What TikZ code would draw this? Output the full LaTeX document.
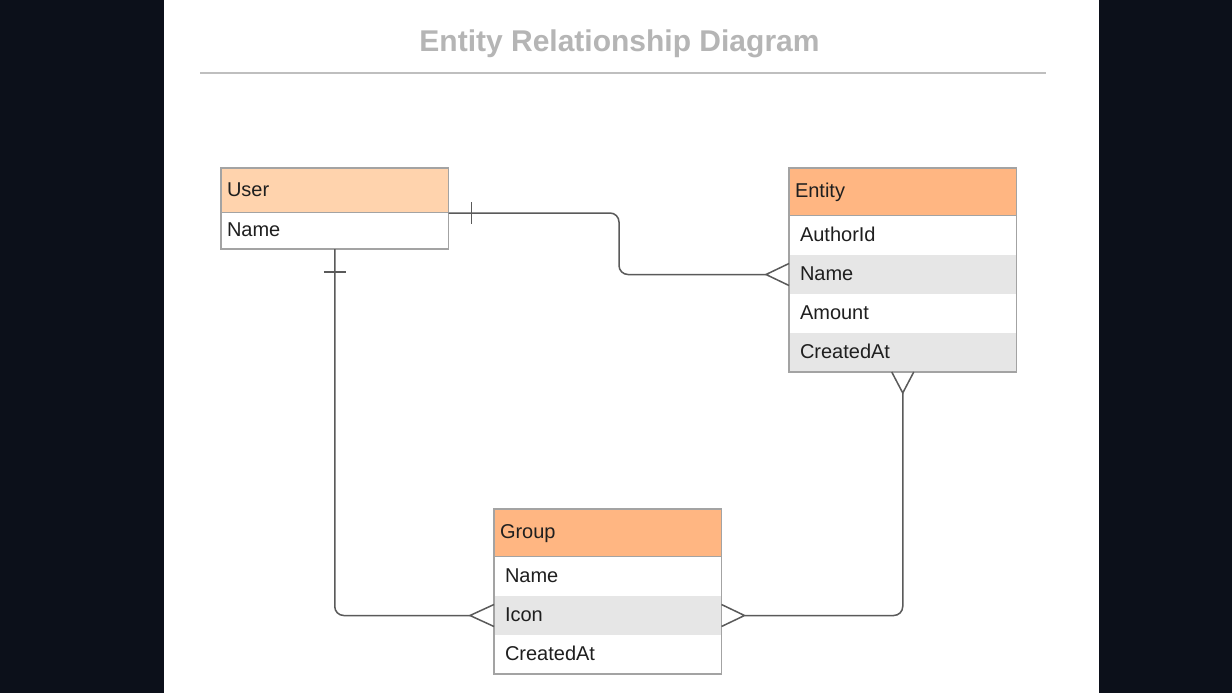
\documentclass[tikz,border=0pt]{standalone}
\usepackage{fontspec}
\setmainfont{Liberation Sans}
\usetikzlibrary{positioning,calc}
\definecolor{darkbg}{HTML}{0C101A}
\definecolor{headpale}{HTML}{FFD3AD}
\definecolor{headorange}{HTML}{FFB682}
\definecolor{rowgray}{HTML}{E6E6E6}
\definecolor{boxline}{HTML}{A3A3A3}
\definecolor{connline}{HTML}{5A5A5A}
\definecolor{titlegray}{HTML}{B5B5B5}
\tikzset{
	cell/.style={rectangle, outer sep=0pt, line width=1.6pt,
		minimum width=227.5pt, align=left,
		text height=14pt, text depth=3pt, text=black!88,
		font=\fontsize{20}{24}\selectfont},
	head/.style={cell, draw=boxline, minimum height=48pt, inner xsep=6pt, text width=215.5pt, fill=headorange},
	row/.style={cell, minimum height=39pt, inner xsep=11pt, text width=205.5pt, fill=white},
	grayrow/.style={row, fill=rowgray},
	frame/.style={draw=boxline, line width=1.6pt},
	conn/.style={draw=connline, line width=1.5pt},
}

\begin{document}
\begin{tikzpicture}[x=1pt, y=-1pt]
			%%%%% START %%%%%
			
			\fill[darkbg] (0, 0) rectangle (1232, 693);
			\fill[white] (164, 0) rectangle (1099, 693);
			
			\node[anchor=base, text=titlegray, font=\fontsize{30}{36}\selectfont\bfseries] (title) at (619.5, 52) {Entity Relationship Diagram};
			\draw[draw=black!25, line width=1.8pt] (200, 73) -- (1046, 73);
			
			% User
			\node[head, anchor=north west, minimum height=45pt, fill=headpale] (user) at (221, 168) {User};
			\node[row, minimum height=36pt, inner xsep=6pt, text width=215.5pt, below=0pt of user] (username) {Name};
			\draw[frame] (user.north west) rectangle (username.south east);
			
			% Entity
			\node[head, anchor=north west] (entity) at (789, 168) {Entity};
			\node[row, below=0pt of entity] (entauthor) {AuthorId};
			\node[grayrow, below=0pt of entauthor] (entname) {Name};
			\node[row, below=0pt of entname] (entamount) {Amount};
			\node[grayrow, below=0pt of entamount] (entcreated) {CreatedAt};
			\draw[frame] (entity.north west) rectangle (entcreated.south east);
			
			% Group
			\node[head, anchor=north west] (group) at (494, 509) {Group};
			\node[row, below=0pt of group] (grpname) {Name};
			\node[grayrow, below=0pt of grpname] (grpicon) {Icon};
			\node[row, below=0pt of grpicon] (grpcreated) {CreatedAt};
			\draw[frame] (group.north west) rectangle (grpcreated.south east);
			
			% User -- Entity
			\coordinate (bend) at (619, 213);
			\draw[conn, rounded corners=9pt] (user.south east) -- (bend) |- ([xshift=-23pt]entname.west);
			\draw[conn] ([xshift=23pt]user.south east) ++(0, -11) -- ++(0, 22);
			\draw[conn] (entname.west) ++(0, -11) -- ++(-23, 11) -- ++(23, 11);
			
			% User -- Group
			\draw[conn, rounded corners=9pt] (username.south) |- ([xshift=-24pt]grpicon.west);
			\draw[conn] ([yshift=-23pt]username.south) ++(-11, 0) -- ++(22, 0);
			\draw[conn] (grpicon.west) ++(0, -11) -- ++(-24, 11) -- ++(24, 11);
			
			% Entity -- Group
			\draw[conn, rounded corners=9pt] ([yshift=-21pt]entcreated.south) |- ([xshift=23pt]grpicon.east);
			\draw[conn] (entcreated.south) ++(-11, 0) -- ++(11, 21) -- ++(11, -21);
			\draw[conn] (grpicon.east) ++(0, -11) -- ++(23, 11) -- ++(-23, 11);
			
			%%%%% END %%%%%
\end{tikzpicture}
\end{document}
